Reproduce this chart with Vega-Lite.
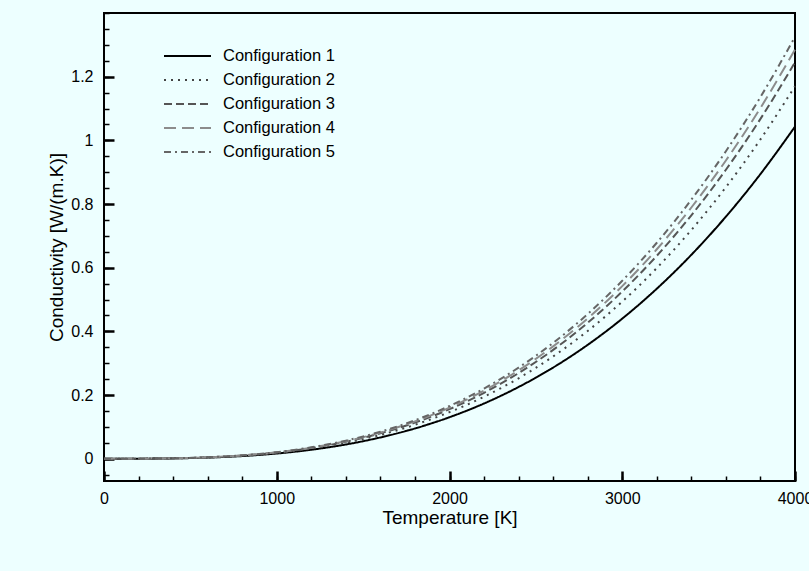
{
  "$schema": "https://vega.github.io/schema/vega-lite/v6.json",
  "autosize": "none",
  "width": 691,
  "height": 468,
  "padding": {"left": 104, "top": 13, "right": 14, "bottom": 90},
  "background": "#edffff",
  "config": {
    "font": "Liberation Sans",
    "view": {"stroke": "black", "strokeWidth": 2, "fill": "#edffff"},
    "axis": {"labelFont": "Liberation Sans", "titleFont": "Liberation Sans", "labelColor": "black", "titleColor": "black", "titleFontWeight": "normal", "grid": false, "domain": false, "tickColor": "black", "labelFlush": false, "zindex": 1},
    "legend": {"labelFont": "Liberation Sans"}
  },
  "data": {
    "values": [
      {"T": 0, "Configuration 1": 0, "Configuration 2": 0, "Configuration 3": 0, "Configuration 4": 0, "Configuration 5": 0},
      {"T": 200, "Configuration 1": 0.0001, "Configuration 2": 0.00015, "Configuration 3": 0.00016, "Configuration 4": 0.00016, "Configuration 5": 0.00017},
      {"T": 400, "Configuration 1": 0.001, "Configuration 2": 0.0012, "Configuration 3": 0.0012, "Configuration 4": 0.0013, "Configuration 5": 0.0013},
      {"T": 600, "Configuration 1": 0.0035, "Configuration 2": 0.0039, "Configuration 3": 0.0042, "Configuration 4": 0.0043, "Configuration 5": 0.0045},
      {"T": 800, "Configuration 1": 0.0083, "Configuration 2": 0.0094, "Configuration 3": 0.01, "Configuration 4": 0.0103, "Configuration 5": 0.0106},
      {"T": 1000, "Configuration 1": 0.0163, "Configuration 2": 0.0183, "Configuration 3": 0.0195, "Configuration 4": 0.0201, "Configuration 5": 0.0207},
      {"T": 1200, "Configuration 1": 0.0282, "Configuration 2": 0.0316, "Configuration 3": 0.0336, "Configuration 4": 0.0347, "Configuration 5": 0.0358},
      {"T": 1400, "Configuration 1": 0.0447, "Configuration 2": 0.0502, "Configuration 3": 0.0534, "Configuration 4": 0.0551, "Configuration 5": 0.0568},
      {"T": 1600, "Configuration 1": 0.0668, "Configuration 2": 0.0749, "Configuration 3": 0.0797, "Configuration 4": 0.0822, "Configuration 5": 0.0848},
      {"T": 1800, "Configuration 1": 0.095, "Configuration 2": 0.1066, "Configuration 3": 0.1135, "Configuration 4": 0.1171, "Configuration 5": 0.1207},
      {"T": 2000, "Configuration 1": 0.1304, "Configuration 2": 0.1463, "Configuration 3": 0.1556, "Configuration 4": 0.1606, "Configuration 5": 0.1656},
      {"T": 2200, "Configuration 1": 0.1735, "Configuration 2": 0.1947, "Configuration 3": 0.2071, "Configuration 4": 0.2138, "Configuration 5": 0.2204},
      {"T": 2400, "Configuration 1": 0.2253, "Configuration 2": 0.2527, "Configuration 3": 0.2689, "Configuration 4": 0.2776, "Configuration 5": 0.2862},
      {"T": 2600, "Configuration 1": 0.2864, "Configuration 2": 0.3213, "Configuration 3": 0.3419, "Configuration 4": 0.3529, "Configuration 5": 0.3639},
      {"T": 2800, "Configuration 1": 0.3577, "Configuration 2": 0.4013, "Configuration 3": 0.427, "Configuration 4": 0.4408, "Configuration 5": 0.4545},
      {"T": 3000, "Configuration 1": 0.44, "Configuration 2": 0.4936, "Configuration 3": 0.5252, "Configuration 4": 0.5421, "Configuration 5": 0.559},
      {"T": 3200, "Configuration 1": 0.534, "Configuration 2": 0.599, "Configuration 3": 0.6374, "Configuration 4": 0.6579, "Configuration 5": 0.6784},
      {"T": 3400, "Configuration 1": 0.6405, "Configuration 2": 0.7185, "Configuration 3": 0.7646, "Configuration 4": 0.7891, "Configuration 5": 0.8137},
      {"T": 3600, "Configuration 1": 0.7603, "Configuration 2": 0.8529, "Configuration 3": 0.9076, "Configuration 4": 0.9368, "Configuration 5": 0.9659},
      {"T": 3800, "Configuration 1": 0.8942, "Configuration 2": 1.0031, "Configuration 3": 1.0674, "Configuration 4": 1.1017, "Configuration 5": 1.136},
      {"T": 4000, "Configuration 1": 1.043, "Configuration 2": 1.17, "Configuration 3": 1.245, "Configuration 4": 1.285, "Configuration 5": 1.325}
    ]
  },
  "transform": [
    {"fold": ["Configuration 1", "Configuration 2", "Configuration 3", "Configuration 4", "Configuration 5"], "as": ["config", "k"]}
  ],
  "resolve": {"axis": {"x": "independent", "y": "independent"}},
  "layer": [
    {
      "mark": {"type": "point", "opacity": 0},
      "encoding": {
        "x": {"field": "T", "type": "quantitative", "scale": {"domain": [0, 4000], "nice": false, "zero": false},
          "axis": {"orient": "bottom", "values": [0,200,400,600,800,1000,1200,1400,1600,1800,2000,2200,2400,2600,2800,3000,3200,3400,3600,3800,4000], "tickSize": -5, "tickWidth": 1.5, "labels": false, "title": null}},
        "y": {"field": "k", "type": "quantitative", "scale": {"domain": [-0.07, 1.4], "nice": false, "zero": false},
          "axis": {"orient": "left", "values": [-0.05,0,0.05,0.1,0.15,0.2,0.25,0.3,0.35,0.4,0.45,0.5,0.55,0.6,0.65,0.7,0.75,0.8,0.85,0.9,0.95,1,1.05,1.1,1.15,1.2,1.25,1.3,1.35,1.4], "tickSize": -5, "tickWidth": 1.5, "labels": false, "title": null}}
      }
    },
    {
      "mark": {"type": "line", "strokeWidth": 2, "interpolate": "monotone"},
      "encoding": {
        "x": {"field": "T", "type": "quantitative", "scale": {"domain": [0, 4000], "nice": false, "zero": false},
          "axis": {"orient": "bottom", "values": [0,1000,2000,3000,4000], "format": "d", "tickSize": -10, "tickWidth": 2.5, "labelFontSize": 16, "labelPadding": 19, "title": "Temperature [K]", "titleFontSize": 19, "titlePadding": 2}},
        "y": {"field": "k", "type": "quantitative", "scale": {"domain": [-0.07, 1.4], "nice": false, "zero": false},
          "axis": {"orient": "left", "values": [0,0.2,0.4,0.6,0.8,1,1.2], "format": "~g", "tickSize": -10, "tickWidth": 2.5, "labelFontSize": 16, "labelPadding": 21, "title": "Conductivity [W/(m.K)]", "titleFontSize": 19, "titlePadding": 4}},
        "color": {"field": "config", "type": "nominal",
          "scale": {"domain": ["Configuration 1", "Configuration 2", "Configuration 3", "Configuration 4", "Configuration 5"], "range": ["#000000", "#444444", "#555555", "#8c8c8c", "#666666"]},
          "legend": {"title": null, "orient": "none", "legendX": 59, "legendY": 36, "padding": 0, "symbolType": "stroke", "symbolSize": 2209, "symbolStrokeWidth": 2, "clipHeight": 14, "rowPadding": 7, "labelFontSize": 16.5, "labelOffset": 11, "labelColor": "black"}},
        "strokeDash": {"field": "config", "type": "nominal",
          "scale": {"domain": ["Configuration 1", "Configuration 2", "Configuration 3", "Configuration 4", "Configuration 5"], "range": [[1, 0], [2, 5], [8, 4], [12, 6], [7, 4, 2, 4]]},
          "legend": null}
      }
    }
  ]
}
